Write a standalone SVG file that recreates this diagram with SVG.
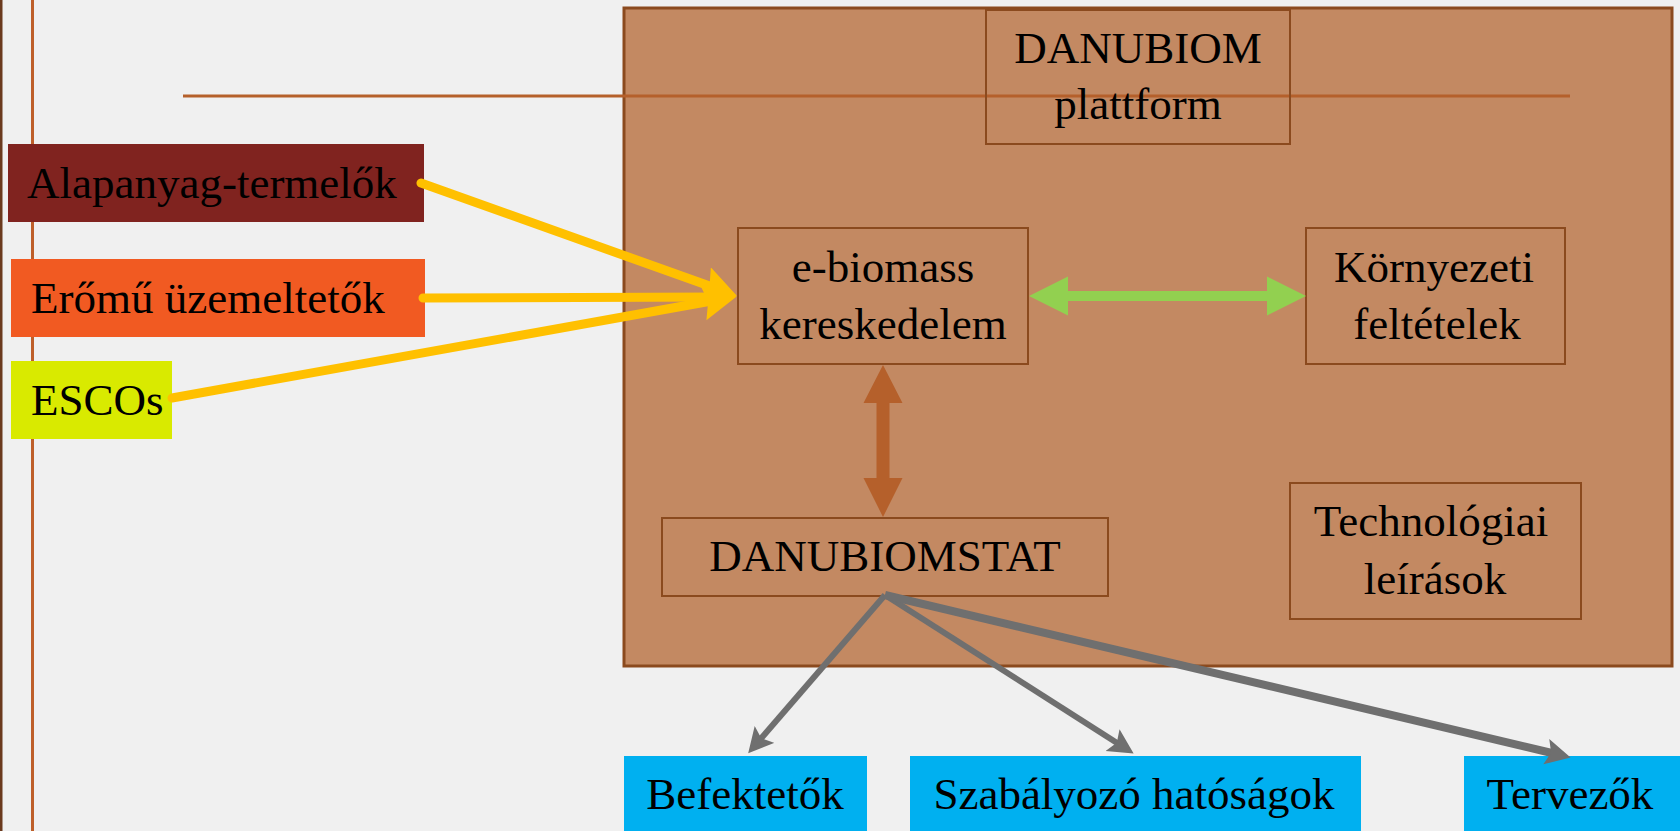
<svg xmlns="http://www.w3.org/2000/svg" width="1680" height="831" viewBox="0 0 1680 831">
<defs>
<style>
.t{font-family:"Liberation Serif","Times New Roman",serif;font-size:45px;fill:#000;}
.box{fill:none;stroke:#8B4A1E;stroke-width:2;}
.yl{stroke:#FFC000;stroke-width:9;stroke-linecap:round;fill:none;}
.gl{stroke:#6F6F6F;fill:none;}
.blue{fill:#00B0F0;}
</style>
<marker id="yh" markerUnits="userSpaceOnUse" markerWidth="44" markerHeight="44" refX="14" refY="18" orient="auto" viewBox="0 0 44 44">
<path d="M0,0 L34,18 L0,36 L5,18 Z" fill="#FFC000"/>
</marker>
<marker id="gh" markerUnits="userSpaceOnUse" markerWidth="32" markerHeight="32" refX="10" refY="13" orient="auto" viewBox="0 0 32 32">
<path d="M0,0 L25,13 L0,26 L5,13 Z" fill="#6F6F6F"/>
</marker>
</defs>
<rect x="0" y="0" width="1680" height="831" fill="#F0F0F0"/>
<rect x="0" y="0" width="2.5" height="831" fill="#6B3A1E"/>
<rect x="31" y="0" width="3" height="831" fill="#BE5F2A"/>

<g id="platform">
<rect x="624" y="8" width="1048" height="658" fill="#C38962" stroke="#8B4A1E" stroke-width="3"/>
</g>
<line x1="183" y1="96" x2="1570" y2="96" stroke="#B5602B" stroke-width="3"/>

<g id="danubiom">
<rect class="box" x="986" y="10" width="304" height="134"/>
<text class="t" x="1138" y="63" text-anchor="middle">DANUBIOM</text>
<text class="t" x="1138" y="119" text-anchor="middle">plattform</text>
</g>

<g id="ebiomass">
<rect class="box" x="738" y="228" width="290" height="136"/>
<text class="t" x="883" y="282" text-anchor="middle">e-biomass</text>
<text class="t" x="883" y="339" text-anchor="middle">kereskedelem</text>
</g>

<g id="kornyezeti">
<rect class="box" x="1306" y="228" width="259" height="136"/>
<text class="t" x="1434" y="282" text-anchor="middle">Környezeti</text>
<text class="t" x="1437" y="339" text-anchor="middle">feltételek</text>
</g>

<g id="danubiomstat">
<rect class="box" x="662" y="518" width="446" height="78"/>
<text class="t" x="885" y="571" text-anchor="middle">DANUBIOMSTAT</text>
</g>

<g id="technologiai">
<rect class="box" x="1290" y="483" width="291" height="136"/>
<text class="t" x="1431" y="536" text-anchor="middle">Technológiai</text>
<text class="t" x="1435" y="594" text-anchor="middle">leírások</text>
</g>

<g id="alapanyag">
<rect x="8" y="144" width="416" height="78" fill="#80231F"/>
<text class="t" x="27" y="198">Alapanyag-termelők</text>
</g>

<g id="eromu">
<rect x="11" y="259" width="414" height="78" fill="#F15A22"/>
<text class="t" x="31" y="313">Erőmű üzemeltetők</text>
</g>

<g id="escos">
<rect x="11" y="361" width="161" height="78" fill="#D9EA00"/>
<text class="t" x="31" y="415">ESCOs</text>
</g>

<g id="befektetok">
<rect class="blue" x="624" y="756" width="243" height="80"/>
<text class="t" x="745" y="809" text-anchor="middle">Befektetők</text>
</g>

<g id="szabalyozo">
<rect class="blue" x="910" y="756" width="451" height="80"/>
<text class="t" x="1134" y="809" text-anchor="middle">Szabályozó hatóságok</text>
</g>

<g id="tervezok">
<rect class="blue" x="1464" y="756" width="220" height="80"/>
<text class="t" x="1570" y="809" text-anchor="middle">Tervezők</text>
</g>

<g id="connectors">
<line class="yl" x1="421" y1="183" x2="718" y2="289" marker-end="url(#yh)"/>
<line class="yl" x1="423" y1="298" x2="720" y2="297"/>
<line class="yl" x1="172" y1="398" x2="717" y2="300" marker-end="url(#yh)"/>
<path d="M1029,296 L1068,276.5 L1068,291 L1267,291 L1267,276.5 L1306,296 L1267,315.5 L1267,301 L1068,301 L1068,315.5 Z" fill="#92D050"/>
<path d="M883,365 L902.5,403 L889.5,403 L889.5,478 L902.5,478 L883,517 L863.5,478 L876.5,478 L876.5,403 L863.5,403 Z" fill="#B5602B"/>
<line class="gl" stroke-width="6" x1="885" y1="595" x2="758" y2="742" marker-end="url(#gh)"/>
<line class="gl" stroke-width="6" x1="885" y1="595" x2="1121" y2="745.5" marker-end="url(#gh)"/>
<line class="gl" stroke-width="8" x1="885" y1="595" x2="1556" y2="754" marker-end="url(#gh)"/>
</g>
</svg>
